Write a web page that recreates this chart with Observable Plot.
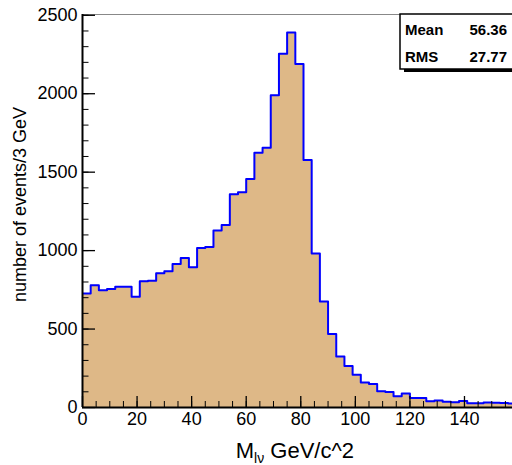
<!DOCTYPE html>
<html>
<head>
<meta charset="utf-8">
<script src="https://cdn.jsdelivr.net/npm/d3@7"></script>
<script src="https://cdn.jsdelivr.net/npm/@observablehq/plot@0.6"></script>
<style>
  html, body { margin: 0; padding: 0; background: #fff; }
  svg { display: block; }
  g[aria-label="x-axis tick label"], g[aria-label="y-axis tick label"] { font-size: 18px; }
</style>
</head>
<body>
<div id="chart"></div>
<script>
// Histogram: bins of 3 GeV starting at 0
const binWidth = 3;
const counts = [726, 779, 747, 755, 769, 769, 706, 804, 808, 855, 868, 914, 953, 894, 1017, 1023,
  1128, 1164, 1360, 1372, 1457, 1623, 1655, 1990, 2255, 2390, 2190, 1577, 981, 675, 468, 325,
  264, 208, 160, 150, 104, 99, 72, 90, 61, 61, 40, 44, 37, 33, 42, 27, 27, 32, 30, 28, 26];
const xMajorTicks = [0, 20, 40, 60, 80, 100, 120, 140];
const xMinorTicks = d3.range(0, 160, 5);
const yMajorTicks = [0, 500, 1000, 1500, 2000, 2500];
const yMinorTicks = d3.range(0, 2600, 100);
const xTitle = "M";
const xTitleSub = "lν";
const xTitleRest = " GeV/c^2";
const yTitle = "number of events/3 GeV";
const statNames = ["Mean", "RMS"];
const statValues = ["56.36", "27.77"];

const bins = counts.map((c, i) => ({x1: i * binWidth, x2: (i + 1) * binWidth, y: c}));
const steps = bins.map(b => ({x: b.x1, y: b.y})).concat([{x: bins[bins.length - 1].x2, y: bins[bins.length - 1].y}]);

const W = 512, H = 465;
const font = "'Liberation Sans', Arial, Helvetica, sans-serif";

const plot = Plot.plot({
  width: W,
  height: H,
  marginLeft: 82,
  marginRight: 0,
  marginTop: 14,
  marginBottom: 58,
  style: {fontFamily: font, fontSize: "18px", background: "#fff", color: "#000"},
  x: {domain: [0, 157.6], label: null},
  y: {domain: [0, 2505], label: null},
  marks: [
    Plot.areaY(steps, {x: "x", y: "y", curve: "step-after", fill: "#deb887", clip: true}),
    Plot.line(steps, {x: "x", y: "y", curve: "step-after", stroke: "#0000ff", strokeWidth: 2, clip: true}),
    Plot.frame({anchor: "top", stroke: "#888", strokeWidth: 1}),
    // x axis ticks (inward)
    Plot.axisX({ticks: xMinorTicks, tickSize: -6, text: null, stroke: "#000", strokeWidth: 1}),
    Plot.axisX({ticks: xMajorTicks, tickSize: -11, text: null, stroke: "#000", strokeWidth: 1.3}),
    Plot.axisX({ticks: xMajorTicks, tickSize: 0, tickPadding: 5, fontSize: 18, label: null, tickFormat: d3.format("d")}),
    // y axis ticks (inward)
    Plot.axisY({ticks: yMinorTicks, tickSize: -6.5, text: null, stroke: "#000", strokeWidth: 1}),
    Plot.axisY({ticks: yMajorTicks, tickSize: -13, text: null, stroke: "#000", strokeWidth: 1.3}),
    Plot.axisY({ticks: yMajorTicks, tickSize: 0, tickPadding: 5, fontSize: 18, label: null, tickFormat: d3.format("d")}),
    Plot.ruleX([0], {stroke: "#000", strokeWidth: 2}),
    Plot.ruleY([0], {stroke: "#000", strokeWidth: 2})
  ]
});

const svg = d3.select(plot);

// x title with subscript
const xt = svg.append("text")
  .attr("x", 354).attr("y", 457.5)
  .attr("text-anchor", "end")
  .attr("font-family", font)
  .attr("font-size", 22)
  .attr("fill", "#000");
xt.append("tspan").text(xTitle);
xt.append("tspan").attr("font-size", 14).attr("dy", 5).text(xTitleSub);
xt.append("tspan").attr("dy", -5).text(xTitleRest);

// y title
svg.append("text")
  .attr("transform", "translate(26,107) rotate(-90)")
  .attr("text-anchor", "end")
  .attr("font-family", font)
  .attr("font-size", 18)
  .attr("fill", "#000")
  .text(yTitle);

// stats box
const bx = 400, by = 14, bw = 120, bh = 55;
svg.append("rect").attr("x", bx + 4).attr("y", by + bh).attr("width", bw).attr("height", 3).attr("fill", "#000");
svg.append("rect").attr("x", bx).attr("y", by).attr("width", bw).attr("height", bh)
  .attr("fill", "#fff").attr("stroke", "#000").attr("stroke-width", 1.5);
statNames.forEach((n, i) => {
  const yy = by + 21 + i * 26.5;
  svg.append("text").attr("x", 405).attr("y", yy).attr("text-anchor", "start")
    .attr("font-family", font).attr("font-size", 15).attr("font-weight", "bold").text(n);
  svg.append("text").attr("x", 507).attr("y", yy).attr("text-anchor", "end")
    .attr("font-family", font).attr("font-size", 15).attr("font-weight", "bold").text(statValues[i]);
});

document.getElementById("chart").appendChild(plot);
</script>
</body>
</html>
